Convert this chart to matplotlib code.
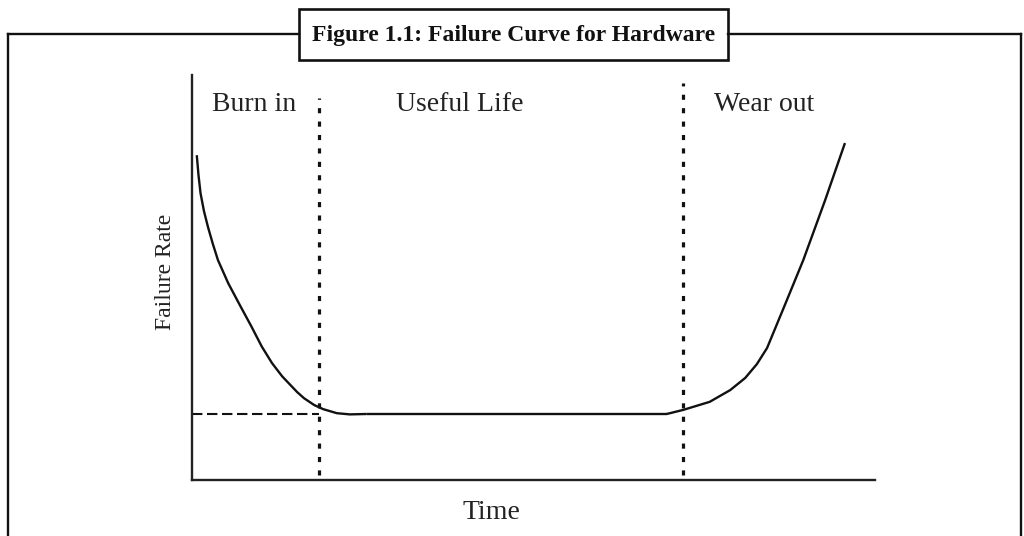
import matplotlib
matplotlib.use("Agg")
import matplotlib.pyplot as plt
from matplotlib.lines import Line2D
from matplotlib.patches import Rectangle

# ---- data (time, failure rate in arbitrary 0-100 units) ----
burnin_time = [0.7, 0.95, 1.25, 1.75, 2.35, 3.05, 3.8, 5.3, 7.0, 8.7, 10.2,
               11.7, 13.2, 15.4, 16.4, 17.9, 19.2, 21.2, 23.1, 25.6]
burnin_rate = [80.2, 75.3, 70.8, 66.4, 62.4, 58.3, 54.3, 48.6, 43.2, 37.9, 33.0,
               28.9, 25.6, 21.7, 20.2, 18.5, 17.5, 16.5, 16.2, 16.3]
useful_time = [25.6, 69.5]
useful_rate = [16.3, 16.3]
wear_time = [69.5, 71.9, 75.8, 78.8, 81.0, 82.7, 84.2, 86.8, 89.5, 92.7, 95.6]
wear_rate = [16.3, 17.3, 19.3, 22.2, 25.2, 28.6, 32.6, 43.2, 54.3, 69.1, 83.2]

baseline_rate = 16.3
phase_bounds = [18.6, 71.9]
phase_tops = [94.3, 98.0]
phase_labels = ["Burn in", "Useful Life", "Wear out"]
phase_label_x = [9.1, 39.2, 83.7]
title = "Figure 1.1: Failure Curve for Hardware"
xlabel = "Time"
ylabel = "Failure Rate"

W, H = 1024, 536
fig = plt.figure(figsize=(W / 100, H / 100), dpi=100)
fig.patch.set_facecolor("white")

def fx(px):
    return px / W

def fy(py):
    return 1 - py / H

ink = "#111111"
serif = ["Liberation Serif", "DejaVu Serif"]

# outer frame
frame_kw = dict(color=ink, lw=1.7, transform=fig.transFigure, solid_capstyle="projecting")
fig.add_artist(Line2D([fx(8), fx(299)], [fy(34), fy(34)], **frame_kw))
fig.add_artist(Line2D([fx(728), fx(1021)], [fy(34), fy(34)], **frame_kw))
fig.add_artist(Line2D([fx(8), fx(8)], [fy(34), 0], **frame_kw))
fig.add_artist(Line2D([fx(1021), fx(1021)], [fy(34), 0], **frame_kw))

# title box
fig.add_artist(Rectangle((fx(299), fy(60)), fx(728) - fx(299), fy(9) - fy(60),
                         transform=fig.transFigure, facecolor="white",
                         edgecolor=ink, lw=1.9))
fig.text(fx(513.5), fy(35), title, ha="center", va="center",
         fontsize=17, fontweight="bold", family=serif, color=ink)

# main axes
ax = fig.add_axes([fx(192), fy(480), fx(875) - fx(192), fy(75) - fy(480)])
ax.set_xlim(0, 100)
ax.set_ylim(0, 100)
for s in ["top", "right"]:
    ax.spines[s].set_visible(False)
for s in ["left", "bottom"]:
    ax.spines[s].set_linewidth(1.7)
    ax.spines[s].set_color("#222222")
ax.set_xticks([])
ax.set_yticks([])
ax.patch.set_alpha(0)

curve_kw = dict(color=ink, lw=1.7, solid_capstyle="butt", solid_joinstyle="round",
                clip_on=False)
ax.plot(burnin_time, burnin_rate, **curve_kw)
ax.plot(useful_time, useful_rate, **curve_kw)
ax.plot(wear_time, wear_rate, **curve_kw)

# dashed baseline
ax.plot([0, phase_bounds[0]], [baseline_rate, baseline_rate], color=ink, lw=1.5,
        linestyle=(0, (5.0, 2.2)), dash_capstyle="butt", clip_on=False)

# dotted phase boundaries
for xb, top in zip(phase_bounds, phase_tops):
    ax.plot([xb, xb], [1.2, top], color=ink, lw=2.3,
            linestyle=(0, (1.6, 2.6)), dash_capstyle="butt", clip_on=False)

for lab, lx in zip(phase_labels, phase_label_x):
    ax.text(lx, 92.6, lab, ha="center", va="center", fontsize=20,
            family=serif, color="#222222", clip_on=False)

ax.text(-3.95, 51.4, ylabel, rotation=90, ha="center", va="center",
        fontsize=17, family=serif, color="#222222", clip_on=False)
ax.text(43.8, -8.0, xlabel, ha="center", va="center", fontsize=20,
        family=serif, color="#222222", clip_on=False)

fig.savefig("out.png", dpi=100, facecolor="white")
